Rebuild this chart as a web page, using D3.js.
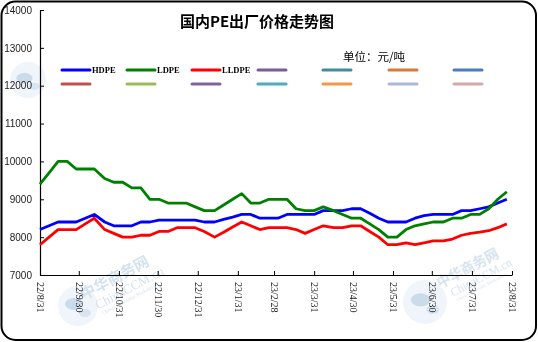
<!DOCTYPE html>
<html>
<head>
<meta charset="utf-8">
<script src="https://cdn.jsdelivr.net/npm/d3@7/dist/d3.min.js"></script>
<style>
  html, body { margin: 0; padding: 0; background: #fff; }
  svg { display: block; }
</style>
</head>
<body>
<svg id="chart" width="538" height="342"></svg>
<script>
// ---------- data ----------
const dates = [
  "2022-08-31","2022-09-07","2022-09-14","2022-09-21","2022-09-28","2022-10-05","2022-10-12","2022-10-20",
  "2022-10-27","2022-11-03","2022-11-10","2022-11-17","2022-11-24","2022-12-01","2022-12-08","2022-12-15",
  "2022-12-22","2022-12-29","2023-01-05","2023-01-13","2023-01-20","2023-01-27","2023-02-03","2023-02-10",
  "2023-02-17","2023-02-24","2023-03-03","2023-03-10","2023-03-17","2023-03-24","2023-03-31","2023-04-07",
  "2023-04-15","2023-04-22","2023-04-29","2023-05-06","2023-05-13","2023-05-20","2023-05-27","2023-06-03",
  "2023-06-10","2023-06-17","2023-06-24","2023-07-01","2023-07-09","2023-07-16","2023-07-23","2023-07-30",
  "2023-08-06","2023-08-13","2023-08-20","2023-08-27"
];
const hdpe = [
  8200,8300,8400,8400,8400,8500,8600,8400,8300,8300,8300,8400,8400,8450,8450,8450,
  8450,8450,8400,8400,8470,8530,8600,8600,8500,8500,8500,8600,8600,8600,8600,8700,
  8700,8700,8750,8750,8630,8500,8400,8400,8400,8500,8570,8600,8600,8600,8700,8700,
  8750,8800,8900,9000
];
const ldpe = [
  9400,9700,10000,10000,9800,9800,9800,9550,9450,9450,9300,9300,9000,9000,8900,8900,
  8900,8800,8700,8700,8850,9000,9150,8900,8900,9000,9000,9000,8750,8700,8700,8800,
  8700,8600,8500,8500,8350,8200,8000,8000,8200,8300,8350,8400,8400,8500,8500,8600,
  8600,8750,9000,9200
];
const lldpe = [
  7800,8000,8200,8200,8200,8350,8500,8200,8100,8000,8000,8050,8050,8150,8150,8250,
  8250,8250,8150,8000,8130,8270,8400,8300,8200,8250,8250,8250,8200,8100,8200,8300,
  8250,8250,8300,8300,8150,8000,7800,7800,7850,7800,7850,7900,7900,7950,8050,8100,
  8130,8170,8250,8350
];
const seriesNames = ["HDPE", "LDPE", "LLDPE"];
const seriesColors = ["#0000ff", "#008000", "#ff0000"];
// empty legend entries (colours only)
const emptyLegendRow1 = ["#7a5b9a", "#3f8d9f", "#d67a36", "#4a7cc0"];
const emptyLegendRow2 = ["#c0504d", "#9bbb59", "#8064a2", "#4bacc6", "#f79646", "#a8b8d6", "#d8a8a8"];
const tickDates = ["2022-08-31","2022-09-30","2022-10-31","2022-11-30","2022-12-31","2023-01-31","2023-02-28",
  "2023-03-31","2023-04-30","2023-05-31","2023-06-30","2023-07-31","2023-08-31"];
const tickLabels = ["22/8/31","22/9/30","22/10/31","22/11/30","22/12/31","23/1/31","23/2/28",
  "23/3/31","23/4/30","23/5/31","23/6/30","23/7/31","23/8/31"];
const yTicks = [7000, 8000, 9000, 10000, 11000, 12000, 13000, 14000];
const titleText = "国内PE出厂价格走势图";
const unitText = "单位：元/吨";

// ---------- drawing ----------
const svg = d3.select("#chart");
const parse = d3.utcParse("%Y-%m-%d");
const L = 40, R = 512, T = 10, B = 275;

const x = d3.scaleUtc()
  .domain([parse(tickDates[0]), parse(tickDates[tickDates.length - 1])])
  .range([L, R]);
const y = d3.scaleLinear().domain([7000, 14000]).range([B, T]);

// watermarks
const wm = svg.append("g").attr("opacity", 0.45);
function globe(cx, cy, r) {
  const g = wm.append("g");
  g.append("circle").attr("cx", cx).attr("cy", cy).attr("r", r).attr("fill", "#dce8f3");
  g.append("ellipse").attr("cx", cx - r * 0.2).attr("cy", cy - r * 0.1).attr("rx", r * 0.45).attr("ry", r * 0.3)
    .attr("fill", "#8aaed0");
  g.append("ellipse").attr("cx", cx + r * 0.35).attr("cy", cy + r * 0.35).attr("rx", r * 0.3).attr("ry", r * 0.2)
    .attr("fill", "#a8c3dc");
}
globe(28, 80, 18);
globe(78, 306, 20);
globe(425, 302, 22);
function wmText(tx, ty, s) {
  const g = wm.append("g").attr("transform", `translate(${tx},${ty}) rotate(-28)`);
  g.append("text").text("中华商务网").attr("font-family", "Noto Sans CJK SC").attr("font-size", 15 * s)
    .attr("font-weight", "bold").attr("fill", "#9fbcd8");
  g.append("text").text("ChinaCCM.cn").attr("y", 15 * s).attr("x", 8 * s).attr("font-family", "Liberation Serif")
    .attr("font-size", 13 * s).attr("fill", "#9fbcd8");
  g.append("text").text("China Commodity Marketplace").attr("y", 22 * s).attr("x", 10 * s).attr("font-family", "Liberation Serif")
    .attr("font-size", 5 * s).attr("fill", "#9fbcd8");
}
wmText(84, 300, 1);
wmText(440, 288, 0.9);

// title and unit
svg.append("text").attr("x", 257).attr("y", 27).attr("text-anchor", "middle")
  .attr("font-family", "Noto Sans CJK SC").attr("font-weight", "bold").attr("font-size", 15)
  .attr("fill", "#000").text(titleText);
svg.append("text").attr("x", 343).attr("y", 61)
  .attr("font-family", "Noto Sans CJK SC").attr("font-size", 11.5)
  .attr("fill", "#000").text(unitText);

// legend
const colX = [62, 127, 192, 258, 323, 389, 454];
const legendRow1 = seriesColors.concat(emptyLegendRow1);
const legend = svg.append("g");
legendRow1.forEach((c, i) => {
  legend.append("line").attr("x1", colX[i]).attr("x2", colX[i] + 28).attr("y1", 70).attr("y2", 70)
    .attr("stroke", c).attr("stroke-width", 3).attr("stroke-linecap", "round");
  if (i < seriesNames.length) {
    legend.append("text").attr("x", colX[i] + 30).attr("y", 73)
      .attr("font-family", "Liberation Serif").attr("font-weight", "bold").attr("font-size", 8.5)
      .attr("fill", "#000").text(seriesNames[i]);
  }
});
emptyLegendRow2.forEach((c, i) => {
  legend.append("line").attr("x1", colX[i]).attr("x2", colX[i] + 28).attr("y1", 84).attr("y2", 84)
    .attr("stroke", c).attr("stroke-width", 3).attr("stroke-linecap", "round");
});

// axes
const yAxis = d3.axisLeft(y).tickValues(yTicks).tickFormat(d3.format("d"))
  .tickSizeInner(-4).tickSizeOuter(0).tickPadding(8);
const gy = svg.append("g").attr("transform", `translate(${L},0)`).call(yAxis);
gy.select(".domain").attr("stroke", "#000").attr("stroke-width", 1.2);
gy.selectAll(".tick line").attr("stroke", "#000");
gy.selectAll(".tick text").attr("font-family", "Liberation Sans").attr("font-size", 10).attr("fill", "#222");

const tDates = tickDates.map(parse);
const xAxis = d3.axisBottom(x).tickValues(tDates)
  .tickFormat((d, i) => tickLabels[i]).tickSizeInner(-4).tickSizeOuter(0);
const gx = svg.append("g").attr("transform", `translate(0,${B})`).call(xAxis);
gx.select(".domain").attr("stroke", "#000").attr("stroke-width", 1.2);
gx.selectAll(".tick line").attr("stroke", "#000");
gx.selectAll(".tick text")
  .attr("transform", "rotate(90)")
  .attr("x", 7).attr("y", 0).attr("dy", "0.35em")
  .attr("text-anchor", "start")
  .attr("font-family", "Liberation Serif").attr("font-size", 10).attr("fill", "#222");

// lines
const pts = dates.map(parse);
const line = d3.line().x((d, i) => x(pts[i])).y(d => y(d));
[hdpe, ldpe, lldpe].forEach((s, k) => {
  svg.append("path").datum(s).attr("d", line).attr("fill", "none")
    .attr("stroke", seriesColors[k]).attr("stroke-width", 2.8).attr("stroke-linejoin", "round");
});

// frame
svg.append("rect").attr("x", 1.5).attr("y", 1.5).attr("width", 534.5).attr("height", 338.5)
  .attr("rx", 14).attr("fill", "none").attr("stroke", "#000").attr("stroke-width", 2);
</script>
</body>
</html>
